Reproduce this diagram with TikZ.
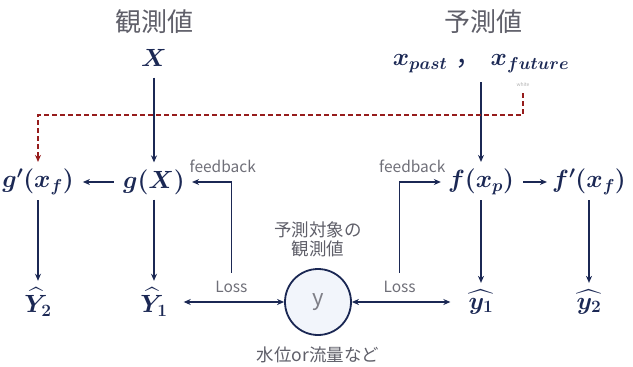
\documentclass[tikz,border=0pt]{standalone}
\usepackage{amsmath}
\usepackage{fontspec}
\newfontfamily\jp{Noto Sans CJK JP}
\usetikzlibrary{arrows.meta,positioning,calc}
\definecolor{DiagNavy}{RGB}{27,40,84}
\definecolor{DiagRed}{RGB}{150,28,28}
\definecolor{DiagGray}{RGB}{95,95,105}
\definecolor{DiagPale}{RGB}{242,245,251}

\begin{document}
\begin{tikzpicture}[x=1pt,y=-1pt,
  title/.style={font=\jp\fontsize{26}{30}\selectfont,text=DiagGray,inner sep=1pt},
  var/.style={font=\fontsize{27}{32}\selectfont\boldmath,text=DiagNavy,inner sep=3pt},
  note/.style={font=\jp\fontsize{15.5}{18}\selectfont,text=DiagGray!90,inner sep=1pt},
  caption/.style={font=\jp\fontsize{17.5}{19}\selectfont,text=DiagGray,align=center,inner sep=1pt},
  target/.style={circle,draw=DiagNavy,line width=1.8pt,fill=DiagPale,minimum size=66pt,
                 font=\jp\fontsize{22}{24}\selectfont,text=DiagGray!80},
  flow/.style={-{Stealth[length=7pt,width=6pt]},DiagNavy,line width=1.6pt},
  both/.style={{Stealth[length=7pt,width=6pt]}-{Stealth[length=7pt,width=6pt]},DiagNavy,line width=1.6pt},
  hint/.style={-{Stealth[length=7pt,width=6pt]},DiagRed,line width=1.6pt,dash pattern=on 5pt off 3pt},
]
\useasboundingbox (0,0) rectangle (633,367);

% inputs
\node[title] (obs) at (154,22) {観測値};
\node[var] (X) at (154,58) {$X$};
\node[title] (pred) at (483,22) {予測値};
\node[var] (xs) at (481,64) {$x_{past}$\ {\jp ，}\ $x_{future}$};
\node[font=\jp\fontsize{5}{6}\selectfont,text=gray!60,inner sep=1pt] (white) at (523,85) {white};

% models
\node[var] (gX) at (154,182) {$g(X)$};
\node[var] (gpx) at (38,182) {$g'(x_f)$};
\node[var] (fxp) at (481,182) {$f(x_p)$};
\node[var] (fpx) at (589,182) {$f'(x_f)$};

% outputs
\node[var] (Y2) at (38,302) {$\widehat{Y}_2$};
\node[var] (Y1) at (154,302) {$\widehat{Y}_1$};
\node[var] (y1) at (481,302) {$\widehat{y_1}$};
\node[var] (y2) at (589,302) {$\widehat{y_2}$};

% observed target
\node[target] (obsy) at (318,302) {y};
\node[caption] (tgtlabel) at (318,239) {予測対象の\\観測値};
\node[caption] (kind) at (318,355) {水位or流量など};

\draw[flow,shorten <=8pt,shorten >=4pt] (X) -- (gX);
\draw[flow,shorten <=6pt,shorten >=4pt] (xs) -- (fxp);
\draw[flow,shorten <=6pt,shorten >=6pt] (gX) -- (gpx);
\draw[flow,shorten <=6pt,shorten >=2pt] (fxp) -- (fpx);
\draw[flow,shorten <=2pt,shorten >=4pt] (gpx) -- (Y2);
\draw[flow,shorten <=2pt,shorten >=4pt] (gX) -- (Y1);
\draw[flow,shorten <=2pt,shorten >=4pt] (fxp) -- (y1);
\draw[flow,shorten <=2pt,shorten >=4pt] (fpx) -- (y2);

% loss and feedback
\draw[both,shorten <=13pt] (Y1) -- (obsy) node[midway,above=8pt,xshift=4pt,note] (lossL) {Loss};
\draw[both,shorten >=15pt] (obsy) -- (y1) node[midway,above=8pt,xshift=-9pt,note] (lossR) {Loss};
\draw[flow,shorten <=6pt,shorten >=4pt] (lossL.north) |- (gX.east)
  node[pos=0.6,above=7pt,note] {feedback};
\draw[flow,shorten <=6pt,shorten >=4pt] (lossR.north) |- (fxp.west)
  node[pos=0.64,above=7pt,note] {feedback};

% future input reused
\coordinate (dashturn) at (523,115);
\draw[hint,shorten <=5pt,shorten >=4pt] (white.south) -- (dashturn) -| (gpx);
\end{tikzpicture}
\end{document}
